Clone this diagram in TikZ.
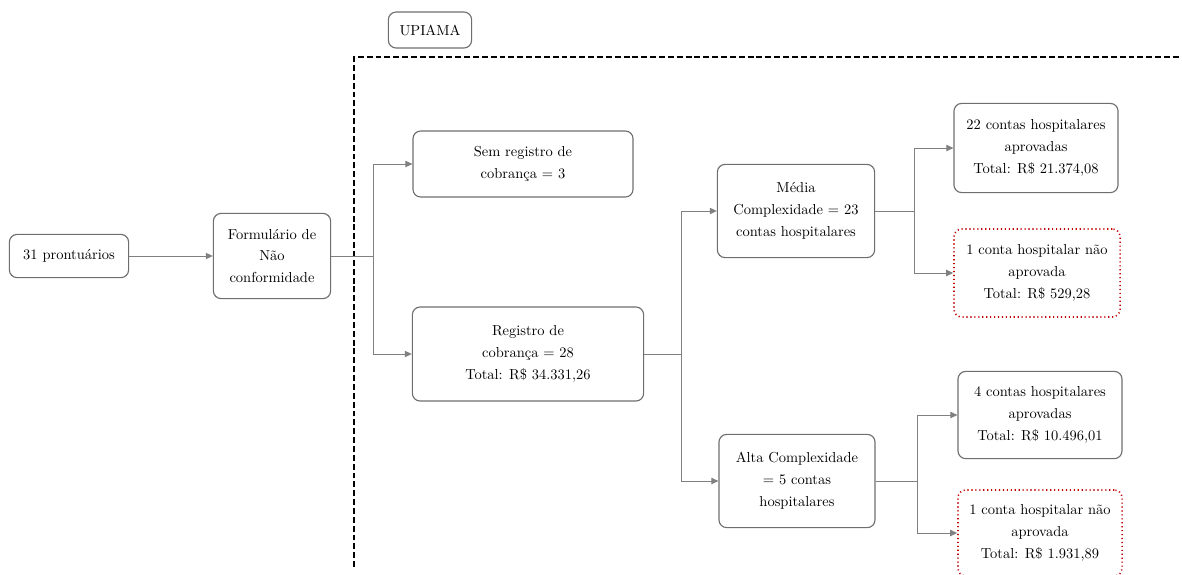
\documentclass[tikz,border=0pt]{standalone}
\usepackage{tikz}
\usetikzlibrary{arrows.meta}

\definecolor{linha}{HTML}{808080}
\definecolor{borda}{HTML}{6E6E6E}
\definecolor{vermelho}{HTML}{C00000}

\begin{document}
\begin{tikzpicture}[x=0.025cm, y=-0.025cm,
    caixa/.style={draw=borda, line width=0.8pt, rounded corners=5.5pt, align=center, inner sep=2pt, font=\fontsize{10.3}{15.5}\selectfont},
    reprovada/.style={caixa, draw=vermelho, dotted, line width=1.1pt},
    seta/.style={draw=linha, line width=0.7pt, -{Triangle[length=5pt, width=4.5pt]}}]
    \useasboundingbox (0,0) rectangle (1182,574);

    % Limite da UPIAMA
    \draw[line width=1.4pt, dash pattern=on 4.2pt off 2.1pt] (354,567) -- (354,57) -- (1182,57);
    \node[caixa, minimum width=2.08cm, minimum height=0.9cm] (UP) at (430,30) {UPIAMA};

    % Caixas
    \node[caixa, minimum width=2.98cm, minimum height=1.08cm] (PR) at (69,256) {31 prontuários};
    \node[caixa, minimum width=2.93cm, minimum height=2.13cm] (FORM) at (272,256) {Formulário de\\Não\\conformidade};
    \node[caixa, minimum width=5.5cm, minimum height=1.65cm] (SEM) at (523,164) {Sem registro de\\cobrança = 3};
    \node[caixa, minimum width=5.78cm, minimum height=2.35cm] (REG) at (528,354) {Registro de\\cobrança = 28\\Total: R\$ 34.331,26};
    \node[caixa, minimum width=3.93cm, minimum height=2.33cm] (MED) at (796,211) {Média\\Complexidade = 23\\contas hospitalares};
    \node[caixa, minimum width=3.9cm, minimum height=2.33cm] (ALTA) at (797,481) {Alta Complexidade\\= 5 contas\\hospitalares};
    \node[caixa, minimum width=4.1cm, minimum height=2.23cm] (MA) at (1036,148) {22 contas hospitalares\\aprovadas\\Total: R\$ 21.374,08};
    \node[reprovada, minimum width=4.15cm, minimum height=2.2cm] (MN) at (1037,273) {1 conta hospitalar não\\aprovada\\Total: R\$ 529,28};
    \node[caixa, minimum width=4.1cm, minimum height=2.18cm] (AA) at (1040,415) {4 contas hospitalares\\aprovadas\\Total: R\$ 10.496,01};
    \node[reprovada, minimum width=4.1cm, minimum height=2.15cm] (AN) at (1040,533) {1 conta hospitalar não\\aprovada\\Total: R\$ 1.931,89};

    % Setas
    \draw[seta] (PR.east) -- (FORM.west);
    \draw[seta] (FORM.east) -- ++(42,0) |- (SEM.west);
    \draw[seta] (FORM.east) -- ++(42,0) |- (REG.west);
    \draw[seta] (REG.east) -- ++(37,0) |- (MED.west);
    \draw[seta] (REG.east) -- ++(37,0) |- (ALTA.west);
    \draw[seta] (MED.east) -- ++(39,0) |- (MA.west);
    \draw[seta] (MED.east) -- ++(39,0) |- (MN.west);
    \draw[seta] (ALTA.east) -- ++(42,0) |- (AA.west);
    \draw[seta] (ALTA.east) -- ++(42,0) |- (AN.west);
\end{tikzpicture}
\end{document}
